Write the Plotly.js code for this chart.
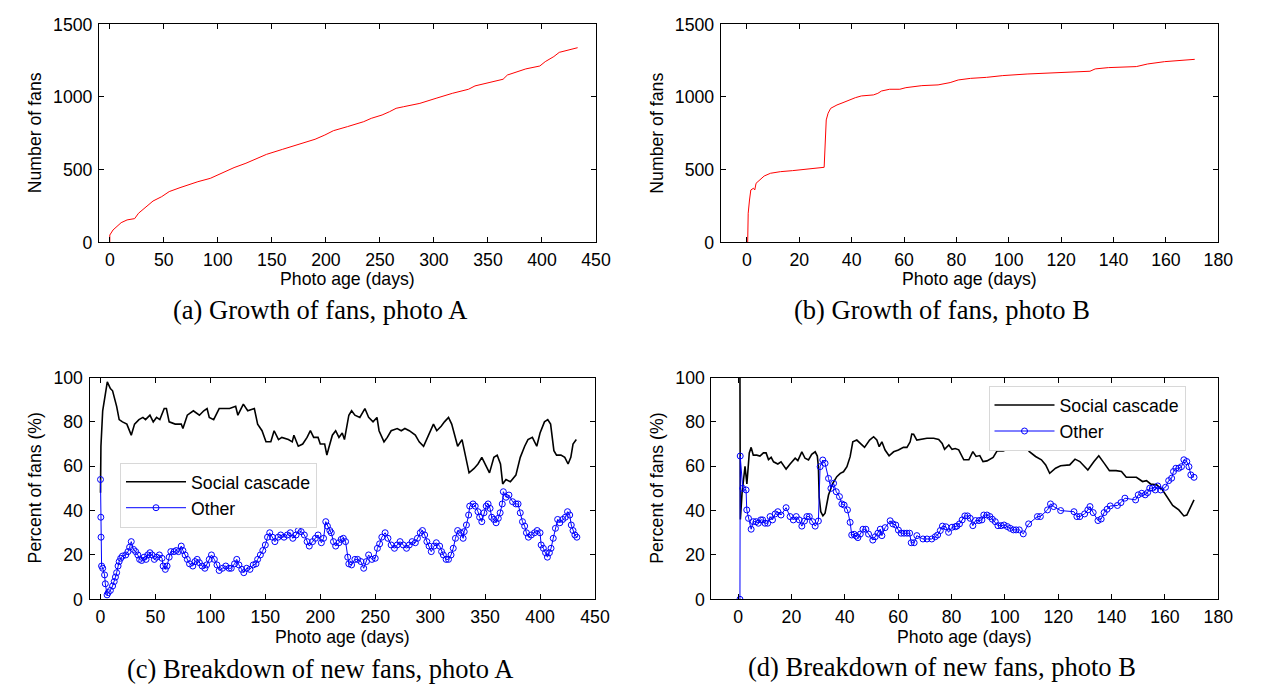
<!DOCTYPE html>
<html>
<head>
<meta charset="utf-8">
<script src="https://cdn.plot.ly/plotly-3.0.1.min.js"></script>
<style>html,body{margin:0;padding:0;background:#fff;}#chart{width:1264px;height:690px;}</style>
</head>
<body>
<div id="chart"></div>
<script>
// ---------- data (day, value) ----------
const aFans = [[0,0],[0,50],[3,85],[6.7,108],[10.5,135],[16,154],[23,163],[26.6,200],[33,241],[40,284],[48,314],[55,349],[65,376],[74,399],[81.5,417],[93,440],[100,463],[108,491],[115,514],[126,544],[138,583],[145,605],[160,640],[175,674],[190,709],[199,738],[207,768],[220,796],[235,830],[242,853],[252,876],[259,899],[265,922],[272,933],[287,956],[302,991],[317,1025],[332,1053],[338,1076],[351,1099],[364,1122],[368,1151],[385,1193],[398,1213],[403,1243],[411,1278],[416,1307],[433,1339]];

const bFans = [[0.3,0],[0.5,200],[1,291],[1.5,360],[2.5,372],[3,360],[3.5,406],[5,433],[6.6,456],[9,475],[12.8,486],[17.4,493],[22,502],[26.7,509],[29.5,516],[30.3,842],[31,888],[32,922],[34.4,945],[36.7,961],[39,979],[41.4,995],[43.7,1007],[48.3,1014],[50,1025],[51.4,1041],[54.5,1053],[58.4,1053],[60.7,1064],[66.8,1078],[73,1083],[77.6,1099],[80.7,1117],[85.4,1128],[91.5,1135],[97.7,1147],[107,1158],[116,1167],[125.5,1172],[131,1177],[133,1193],[138,1202],[148.7,1209],[153,1227],[159.5,1243],[171,1259]];

const cSocial = [[0,48],[0.4,69],[2,85],[4.4,93],[6.2,98],[9,95],[11,94],[14.7,87],[17,81],[20,80],[24,79],[28,74],[31,79],[35,81],[38.6,82],[41,81],[45,83],[48,80],[51,82],[54,81],[58,86],[60,86],[62.5,80],[68,79],[73.5,79],[75,77],[79,83],[84.5,85],[90,83],[94,85],[97,86],[99,82],[103,81],[108,86],[114,86],[117.5,86],[123,87],[125,83],[130,88],[134,85],[140,86],[143,79],[147,76],[150.6,71],[155,71],[158,76],[162,72],[165,73],[171,72],[174.5,71],[176,74],[180,69],[184,70],[188,73],[191,76],[194,73],[198,73],[200,70],[204,70],[206,65],[207.6,68],[211,74],[214,76],[217,73],[220,75],[222,72],[226,83],[228.5,85],[231.5,83],[236,82],[240.6,86],[244,82],[248,80],[251.6,82],[253.5,76],[258,71],[261,73],[264.5,76],[270,77],[273.7,76],[277,77],[281,76],[286.5,74],[290,71],[294,69],[297.6,73],[300.5,77],[303,79],[306,76],[310,78],[313,80],[316.7,82],[319.6,79],[325,69],[329,72],[332.5,64],[335.4,57],[340,59],[343.5,61],[347,64],[351,60],[354,57],[358,64],[361,65],[364,61],[366,52],[369,54],[373,53],[378,56],[382,64],[386,69],[389,72],[393,73],[397,69],[400,75],[404,80],[407,81],[409.6,79],[412.6,67],[415,65],[419,65],[422.5,64],[425.5,61],[428,64],[430,70],[433,72]];

const cOther = [[0,54],[0.3,37],[0.5,28],[1,15],[2,14],[3.7,11],[4.4,7],[6,2],[7,3],[9,4],[11,6],[12.5,8],[13.6,10],[14.7,12],[16,15],[17,17],[18.4,18.5],[20,19.5],[23,20],[25,21.5],[26.5,23.5],[28,26],[30,22.5],[32,21.5],[34,20],[35.6,18],[37.5,17.5],[39.7,19],[41.5,18],[43,20],[45,21],[47,20],[49,18],[51,19],[53.6,20],[56,18.5],[57,15],[59,13.5],[60.6,15],[62.5,19],[64,21.5],[67,21.5],[69,22],[71,21.5],[73.5,24],[75,22],[77,20],[79,18],[81,16],[84,15],[86,17],[88,18],[90,16.5],[92.5,15],[95,14],[96.6,15.5],[99,18],[101,20],[103.6,18],[106,15.5],[108,13],[111,14],[114,15],[117,14],[119,14],[122,16],[124,18],[126,15.5],[128.6,13.5],[130.4,12],[133,14],[136,13.5],[139,15.5],[141.5,16],[143,18],[145.5,20],[147.7,22],[150,24.5],[152,28],[154,30],[156.5,28],[158.7,26],[161.6,28],[164,29],[167,28],[170,29],[172.7,30],[175,27.5],[178,29],[180,31],[182.6,30.5],[185.5,29],[188,26],[190,24],[193,26],[195.5,27.5],[198,29],[201,25.5],[203,27.5],[205,35],[206.5,33],[208.7,31],[210,30],[212,26],[214,24],[217,25.5],[219,27],[221,27.5],[223,26],[225,19],[226,16],[228.5,15.5],[231.5,18],[234,18],[237,17],[239.5,14],[242,17],[244,20],[247,18],[250,18.5],[252,23],[254,25],[256,28],[259,30],[261.6,27.5],[264.5,24.5],[267.5,23],[270,24.5],[272.6,26],[275.5,24.5],[278.5,23],[281,24.5],[283.6,26],[286.5,25.5],[288.4,27.5],[291,30],[293,31],[295,29],[297,26],[299,24],[301,21.5],[303.5,24],[305.6,25.5],[308.6,24],[310.4,21.5],[312,20],[314.5,18],[316.7,18],[319,20],[321,23],[323,27.5],[325,31],[327.7,30],[330,27.5],[331,30.5],[333,33.5],[335,38],[336,42],[339,43],[341,42],[343.5,39.5],[345,37],[347,35],[349,39],[351,42],[352.7,43],[354.5,41],[356,37],[358,36],[360,34.5],[362,36.5],[363.7,39],[365.6,43],[366.6,48.5],[369,46],[371.7,47],[375,44],[378,43],[380,43],[382,39],[384,35],[386,33],[387.6,30],[389.4,28],[392,29],[395,30],[397.4,31],[400,30],[401,24.5],[403,23],[405,21],[406.7,19],[408.5,21],[410,23],[412,27.5],[414,32],[416,36],[418,34.5],[420.6,36],[423,37],[425,39.5],[427,38],[428.4,33.5],[430,31],[431.7,29],[433.5,28]];

const dSocial = [[0.7,100],[0.85,36],[1.5,48],[2,55],[2.6,60],[3.3,52],[4.2,66],[4.9,68.5],[5.7,65],[7,65],[8.2,64.6],[9.5,66],[10.5,66],[11.4,63],[12.4,64],[13.3,62],[14.9,61],[16.1,62],[18,58.7],[19.5,61],[21.4,63.6],[22.4,62.5],[23.9,66.5],[25.1,63.6],[26.4,62.8],[27.6,65.4],[28.9,66.5],[29.7,64.6],[30.1,59.8],[30.4,46],[31,39.5],[31.8,37.6],[32.6,38.8],[33.9,47],[35.5,52.3],[37,55.3],[38.3,56.8],[39.5,57.5],[40.8,59.8],[42,64.3],[43,71],[44.5,71.8],[45.8,70.3],[47.4,68.5],[49.3,71.8],[50.8,73.3],[52,71.8],[52.9,68.8],[53.9,71],[55.1,67.3],[56.6,64.7],[58.3,66.5],[60.1,67.3],[62,68.5],[63.3,68.5],[64.5,71],[65.1,74.5],[65.8,74.4],[67,71.8],[68.9,72.1],[70.8,72.6],[73.3,72.6],[75.2,72.1],[76.5,70.3],[77.4,67.6],[79,69.6],[80.2,67.6],[81.4,68],[82.7,67.4],[84.6,62.9],[86.5,62.9],[88,66.6],[89.2,64.4],[90.6,64.8],[91.8,62.1],[93.3,62.4],[95.6,64],[97.1,66.9],[99.4,66.9],[101.6,68.1],[104.7,68.1],[106.9,70.7],[109.2,66.6],[111.5,64.4],[113.7,62.9],[115.3,60.6],[116.8,56.8],[119,59.1],[120.9,60.2],[124.3,60.6],[126.3,63.2],[128.1,62.1],[129.6,60.2],[131.1,58.3],[133.4,62.1],[135.2,64.7],[137.2,61.4],[139.2,58],[141.7,58],[143.7,57.6],[145.5,55],[149.3,55],[151.6,53.1],[153.1,53.5],[154.6,52],[156.9,51.6],[159.1,49.3],[160.6,46.3],[162.9,42.3],[165.2,40.3],[167.1,37.6],[168.2,38],[169.7,41.8],[170.9,44.8]];

const dOther = [[0.7,0],[0.8,64.6],[1.75,50],[3,49.3],[3.25,40.3],[3.9,36.5],[4.9,31.6],[5.7,35],[6.75,35],[7.6,34.3],[8.5,35.8],[9.2,35.8],[10.1,34.3],[11.1,34.3],[12,37.3],[12.9,35.8],[13.9,38.5],[14.9,39.5],[16.1,38],[18,41.3],[19.5,37.3],[20.7,35.8],[21.8,37.3],[22.9,35.8],[23.9,33],[24.9,35.3],[25.8,37.3],[26.7,37.3],[27.9,35],[28.9,33],[30.1,35.3],[30.75,59.8],[31.75,62.8],[32.6,61.3],[33.9,54.5],[34.8,50],[35.8,52.3],[36.8,48.5],[38,46.3],[38.9,43],[39.75,42.5],[41,40.3],[42,34.7],[42.6,29],[43.5,29.3],[44.3,28.5],[44.9,27.8],[45.8,29.4],[46.8,31.6],[47.9,31.6],[48.9,29.4],[50.5,26.7],[51.4,28.2],[52.4,29.8],[53.3,31.6],[53.9,28.7],[55.1,32.3],[57,35.4],[58,34],[59.1,33.5],[60.1,31.2],[61.1,29.8],[62.2,29.8],[63.3,29.8],[64.3,29.8],[64.9,25.5],[66,25.5],[67,28.7],[69.3,27.2],[70.8,27.2],[72.6,27.2],[73.9,28.2],[74.8,29],[75.8,31],[76.6,33],[77.9,32.7],[78.9,30.2],[80.2,32.5],[81.4,32.7],[82,33],[83,34],[84,35.8],[85,37.6],[86,37.6],[87,36.5],[88,33.2],[89,35.5],[90.3,35.5],[91.4,35.8],[92.1,38],[93.3,38],[94.4,37.3],[95.3,36.1],[96.4,35],[97.4,33.2],[98.6,33.2],[99.7,33.5],[100.9,32.8],[102,32],[103.2,31.3],[104.2,31.3],[105.4,31.3],[106.9,29.5],[108.9,34],[112.2,37.3],[113.3,37.3],[116,40.3],[117.1,43],[118.3,41.8],[120.9,40],[125.9,39.5],[127,37.3],[128.1,37.3],[129.9,38.5],[131.1,40.3],[131.9,41.8],[133.1,39.1],[134.9,35.5],[136.1,36.2],[137.2,39.1],[138.3,40.6],[139.5,42.1],[142.2,42.3],[143.5,43.6],[145,45.6],[149,44.8],[150,47.1],[151.3,47.8],[152.6,47.1],[153.5,48.1],[154.3,50.1],[155.3,50.1],[156.4,49.3],[157.3,51.1],[158.4,49.3],[160.2,50.5],[161.4,53.5],[162.5,54.6],[163.2,57.6],[164.1,59.1],[165.2,59.1],[166.2,59.8],[167.1,62.9],[168.2,62.1],[169,59.8],[169.7,56.1],[170.9,55]];

// ---------- ticks & labels ----------
const ticksA = [0,50,100,150,200,250,300,350,400,450];
const ticksB = [0,20,40,60,80,100,120,140,160,180];
const ticksFans = [0,500,1000,1500];
const ticksPct = [0,20,40,60,80,100];
const seriesNames = ['Social cascade','Other'];
const captions = ['(a) Growth of fans, photo A','(b) Growth of fans, photo B','(c) Breakdown of new fans, photo A','(d) Breakdown of new fans, photo B'];
const xTitle = 'Photo age (days)';
const yTitleFans = 'Number of fans';
const yTitlePct = 'Percent of fans (%)';

// ---------- build ----------
const SANS = 'Liberation Sans, Arial, sans-serif';
const SERIF = 'Liberation Serif, Times New Roman, serif';
const FS = 17.7;
const xs = p => p.map(d => d[0]);
const ys = p => p.map(d => d[1]);

const traces = [
  {x: xs(aFans), y: ys(aFans), xaxis:'x', yaxis:'y', mode:'lines', line:{color:'#ff0000', width:1}, showlegend:false, hoverinfo:'skip'},
  {x: xs(bFans), y: ys(bFans), xaxis:'x2', yaxis:'y2', mode:'lines', line:{color:'#ff0000', width:1}, showlegend:false, hoverinfo:'skip'},
  {x: xs(cSocial), y: ys(cSocial), xaxis:'x3', yaxis:'y3', mode:'lines', name: seriesNames[0], line:{color:'#000', width:1.6}, legend:'legend'},
  {x: xs(cOther), y: ys(cOther), xaxis:'x3', yaxis:'y3', mode:'lines+markers', name: seriesNames[1], line:{color:'#0000ff', width:1}, marker:{symbol:'circle-open', size:6, color:'#0000ff', line:{width:1}}, legend:'legend'},
  {x: xs(dSocial), y: ys(dSocial), xaxis:'x4', yaxis:'y4', mode:'lines', name: seriesNames[0], line:{color:'#000', width:1.6}, legend:'legend2'},
  {x: xs(dOther), y: ys(dOther), xaxis:'x4', yaxis:'y4', mode:'lines+markers', name: seriesNames[1], line:{color:'#0000ff', width:1}, marker:{symbol:'circle-open', size:6, color:'#0000ff', line:{width:1}}, legend:'legend2'}
];

const W = 1264, H = 690;
const px = v => v / W;
const py = v => 1 - v / H;

function axis(extra) {
  return Object.assign({
    showline: true, linecolor: '#000', linewidth: 1, mirror: 'ticks',
    ticks: 'inside', ticklen: 5, tickwidth: 1, tickcolor: '#000',
    showgrid: false, zeroline: false, fixedrange: true,
    tickmode: 'array',
    tickfont: {family: SANS, size: FS, color: '#000'}
  }, extra);
}

// axis boxes (pixel edges)
const boxA = {l:99, r:596, t:24.3, b:242.3};
const boxB = {l:720.7, r:1218.3, t:24.3, b:242.3};
const boxC = {l:89.5, r:595, t:377.5, b:599.3};
const boxD = {l:711.4, r:1218.3, t:377.5, b:599.3};

const layout = {
  width: W, height: H,
  margin: {l:0, r:0, t:0, b:0, pad:0},
  paper_bgcolor: '#fff', plot_bgcolor: '#fff',
  font: {family: SANS, size: FS, color: '#000'},
  xaxis: axis({domain:[px(boxA.l), px(boxA.r)], range:[-10,450], tickvals: ticksA, anchor:'y', ticklabelstandoff: 1}),
  yaxis: axis({domain:[py(boxA.b), py(boxA.t)], range:[0,1500], tickvals: ticksFans, anchor:'x', ticklabelstandoff: 2}),
  xaxis2: axis({domain:[px(boxB.l), px(boxB.r)], range:[-10,180], tickvals: ticksB, anchor:'y2', ticklabelstandoff: 1}),
  yaxis2: axis({domain:[py(boxB.b), py(boxB.t)], range:[0,1500], tickvals: ticksFans, anchor:'x2', ticklabelstandoff: 2}),
  xaxis3: axis({domain:[px(boxC.l), px(boxC.r)], range:[-10,450], tickvals: ticksA, anchor:'y3', ticklabelstandoff: 1}),
  yaxis3: axis({domain:[py(boxC.b), py(boxC.t)], range:[0,100], tickvals: ticksPct, anchor:'x3', ticklabelstandoff: 2}),
  xaxis4: axis({domain:[px(boxD.l), px(boxD.r)], range:[-10,180], tickvals: ticksB, anchor:'y4', ticklabelstandoff: 1}),
  yaxis4: axis({domain:[py(boxD.b), py(boxD.t)], range:[0,100], tickvals: ticksPct, anchor:'x4', ticklabelstandoff: 2}),
  legend: {x: px(120), y: py(462.7), xanchor:'left', yanchor:'top', bgcolor:'#fff', bordercolor:'#d8d8d8', borderwidth:1,
           font:{family:SANS, size:FS, color:'#000'}, itemwidth:60, tracegroupgap:0},
  legend2: {x: px(988.5), y: py(386), xanchor:'left', yanchor:'top', bgcolor:'#fff', bordercolor:'#d8d8d8', borderwidth:1,
           font:{family:SANS, size:FS, color:'#000'}, itemwidth:60, tracegroupgap:0},
  annotations: []
};

function ann(text, x, y, opts) {
  return Object.assign({text, x: px(x), y: py(y), xref:'paper', yref:'paper', showarrow:false,
    xanchor:'center', yanchor:'middle', font:{family:SANS, size:FS, color:'#000'}}, opts || {});
}
const serifFont = {family: SERIF, size: 26.5, color: '#000'};
layout.annotations.push(
  ann(xTitle, (boxA.l+boxA.r)/2, 279.3),
  ann(xTitle, (boxB.l+boxB.r)/2, 279.3),
  ann(xTitle, (boxC.l+boxC.r)/2, 636.7),
  ann(xTitle, (boxD.l+boxD.r)/2, 636.7),
  ann(yTitleFans, 35, (boxA.t+boxA.b)/2, {textangle:-90}),
  ann(yTitleFans, 657.4, (boxB.t+boxB.b)/2, {textangle:-90}),
  ann(yTitlePct, 35, (boxC.t+boxC.b)/2, {textangle:-90}),
  ann(yTitlePct, 657.4, (boxD.t+boxD.b)/2, {textangle:-90}),
  ann(captions[0], 320, 310.5, {font: serifFont}),
  ann(captions[1], 942, 310.5, {font: serifFont}),
  ann(captions[2], 320, 669, {font: serifFont}),
  ann(captions[3], 941.5, 667, {font: serifFont})
);

Plotly.newPlot('chart', traces, layout, {displayModeBar:false, staticPlot:true});
</script>
</body>
</html>
